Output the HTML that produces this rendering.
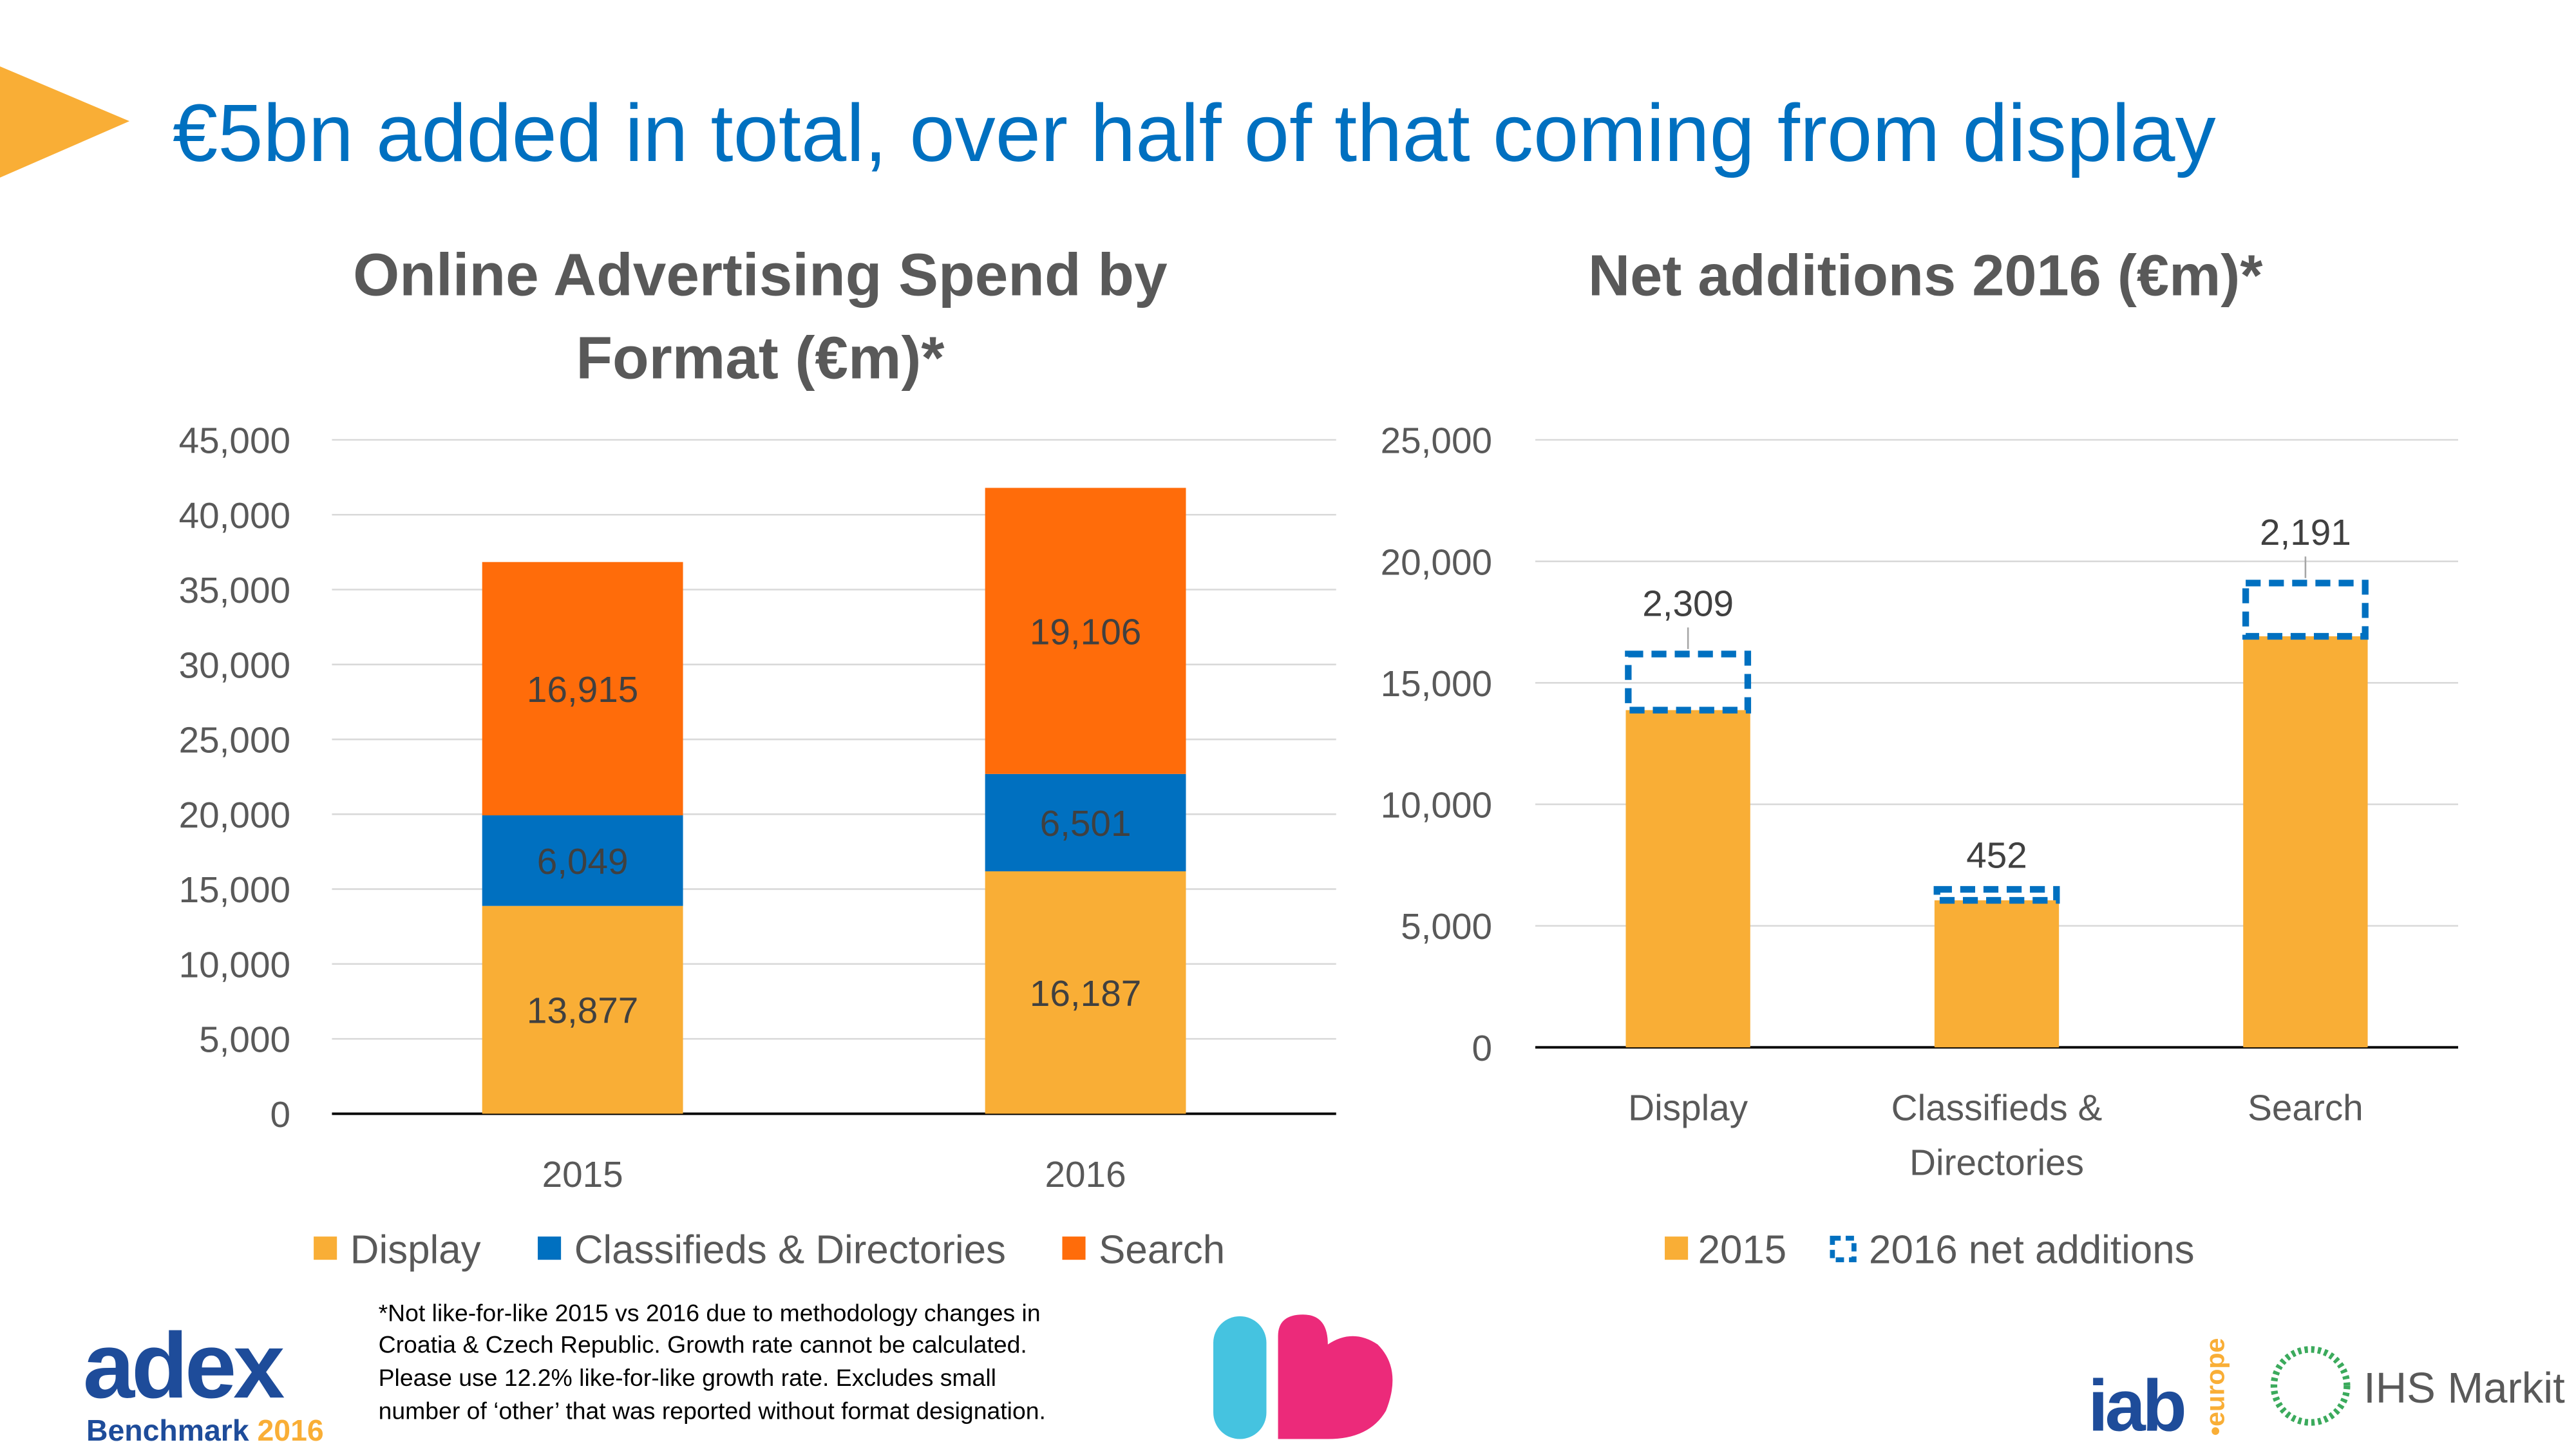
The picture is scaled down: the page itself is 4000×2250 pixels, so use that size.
<!DOCTYPE html>
<html><head><meta charset="utf-8"><style>
html,body{margin:0;padding:0;background:#fff}
svg{display:block}
text{font-family:"Liberation Sans",sans-serif}
</style></head><body>
<svg id="c" width="4000" height="2250" viewBox="0 0 1552 873" xmlns="http://www.w3.org/2000/svg">
<polygon points="0,40 78,73 0,107" fill="#F9AE36"/>
<text x="104" y="97" font-size="49" fill="#0070C0">€5bn added in total, over half of that coming from display</text>
<text x="458" y="178" font-size="36" font-weight="bold" fill="#595959" text-anchor="middle">Online Advertising Spend by</text>
<text x="458" y="228" font-size="36" font-weight="bold" fill="#595959" text-anchor="middle">Format (€m)*</text>
<text x="1160" y="178" font-size="35" font-weight="bold" fill="#595959" text-anchor="middle">Net additions 2016 (€m)*</text>
<g id="left"></g>
<g id="right"></g>
<g font-size="24" fill="#595959">
<rect x="189" y="745" width="14" height="14" fill="#F9AE36"/>
<text x="211" y="761">Display</text>
<rect x="324" y="745" width="14" height="14" fill="#0070C0"/>
<text x="346" y="761">Classifieds &amp; Directories</text>
<rect x="640" y="745" width="14" height="14" fill="#FF6C0A"/>
<text x="662" y="761">Search</text>
</g>
<g font-size="24" fill="#595959">
<rect x="1003" y="745" width="14" height="14" fill="#F9AE36"/>
<text x="1023" y="761">2015</text>
<rect x="1104" y="746" width="13" height="13" fill="none" stroke="#0070C0" stroke-width="3" stroke-dasharray="5,3"/>
<text x="1126" y="761">2016 net additions</text>
</g>
<g font-size="14.5" fill="#000">
<text x="228" y="796">*Not like-for-like 2015 vs  2016 due to methodology changes in</text>
<text x="228" y="815">Croatia &amp; Czech Republic. Growth rate cannot be calculated.</text>
<text x="228" y="835">Please use 12.2% like-for-like growth rate. Excludes small</text>
<text x="228" y="855">number of ‘other’ that was reported without format designation.</text>
</g>
<g>
<text x="50" y="842" font-size="56" font-weight="bold" fill="#1E4C9A" letter-spacing="-2">adex</text>
<text x="52" y="868" font-size="18" font-weight="bold" fill="#1E4C9A">Benchmark <tspan fill="#F9AE36">2016</tspan></text>
</g>
<g>
<rect x="731" y="793" width="32" height="74" rx="16" fill="#45C3E0"/>
<path d="M770 867 L770 805 Q770 792 785 792 Q800 792 800 810 Q815 800 830 810 Q845 825 835 850 Q825 867 800 867 Z" fill="#EC2A7A"/>
</g>
<g>
<text x="1258" y="862" font-size="44" font-weight="bold" fill="#1E4C9A" letter-spacing="-2">iab</text>
<text x="0" y="0" font-size="16" font-weight="bold" fill="#F9AE36" transform="translate(1340,865) rotate(-90)">•europe</text>
</g>
<g>
<circle cx="1392" cy="835" r="22" fill="none" stroke="#3BAA5C" stroke-width="4" stroke-dasharray="2,2"/>
<text x="1424" y="845" font-size="26" fill="#595959">IHS Markit</text>
</g>
</svg>
<script>
const NS='http://www.w3.org/2000/svg';
const leftCats=['2015','2016'];
const displayVals=[13877,16187];
const classVals=[6049,6501];
const searchVals=[16915,19106];
const leftTicks=[0,5000,10000,15000,20000,25000,30000,35000,40000,45000];
const rightCats=[['Display'],['Classifieds &','Directories'],['Search']];
const base2015=[13877,6049,16915];
const netAdds=[2309,452,2191];
const rightTicks=[0,5000,10000,15000,20000,25000];
function el(p,t,a,txt){const e=document.createElementNS(NS,t);for(const k in a)e.setAttribute(k,a[k]);if(txt!=null)e.textContent=txt;p.appendChild(e);return e;}
const fmt=v=>v.toLocaleString('en-US');
const L=document.getElementById('left');
const ly=v=>671-v*406/45000;
const lx=i=>351+i*303;
leftTicks.forEach(t=>{
 const g=el(L,'line',{x1:200,x2:805,y1:ly(t),y2:ly(t),stroke:t?'#d9d9d9':'#000','stroke-width':t?1:1.5});
 
 
 const tx=el(L,'text',{x:175,y:ly(t)+8,'font-size':22,fill:'#595959','text-anchor':'end'},fmt(t));
 
 
});
const series=[[displayVals,'#F9AE36','display'],[classVals,'#0070C0','classifieds'],[searchVals,'#FF6C0A','search']];
leftCats.forEach((c,i)=>{
 let acc=0;
 series.forEach(([vals,col,nm])=>{
  const v=vals[i];
  const r=el(L,'rect',{x:lx(i)-60.5,width:121,y:ly(acc+v),height:ly(acc)-ly(acc+v),fill:col});
  
  
  const t=el(L,'text',{x:lx(i),y:(ly(acc)+ly(acc+v))/2+8,'font-size':22,fill:'#404040','text-anchor':'middle'},fmt(v));
  
  
  acc+=v;
 });
 const cl=el(L,'text',{x:lx(i),y:715,'font-size':22,fill:'#595959','text-anchor':'middle'},c);
 
 
});
const R=document.getElementById('right');
const ry=v=>631-v*366/25000;
const rx=i=>1017+i*186;
rightTicks.forEach(t=>{
 const g=el(R,'line',{x1:925,x2:1481,y1:ry(t),y2:ry(t),stroke:t?'#d9d9d9':'#000','stroke-width':t?1:1.5});
 
 
 const tx=el(R,'text',{x:899,y:ry(t)+8,'font-size':22,fill:'#595959','text-anchor':'end'},fmt(t));
 
 
});
rightCats.forEach((c,i)=>{
 const b=base2015[i],a=netAdds[i];
 const r=el(R,'rect',{x:rx(i)-37.5,width:75,y:ry(b),height:ry(0)-ry(b),fill:'#F9AE36'});
 
 
 const d=el(R,'rect',{x:rx(i)-36,width:72,y:ry(b+a),height:ry(b)-ry(b+a),fill:'none',stroke:'#0070C0','stroke-width':4,'stroke-dasharray':'9,5'});
 
 
 const ty=ry(b+a)-(a>1000?20:10);
 if(a>1000){const ln=el(R,'line',{x1:rx(i),x2:rx(i),y1:ry(b+a)-3,y2:ty+4,stroke:'#a6a6a6','stroke-width':1});
  
  }
 const t=el(R,'text',{x:rx(i),y:ty-3,'font-size':22,fill:'#404040','text-anchor':'middle'},fmt(a));
 
 
 c.forEach((ln,j)=>{
  const cl=el(R,'text',{x:rx(i),y:675+j*33,'font-size':22,fill:'#595959','text-anchor':'middle'},ln);
  
  
 });
});
</script>
</body></html>
